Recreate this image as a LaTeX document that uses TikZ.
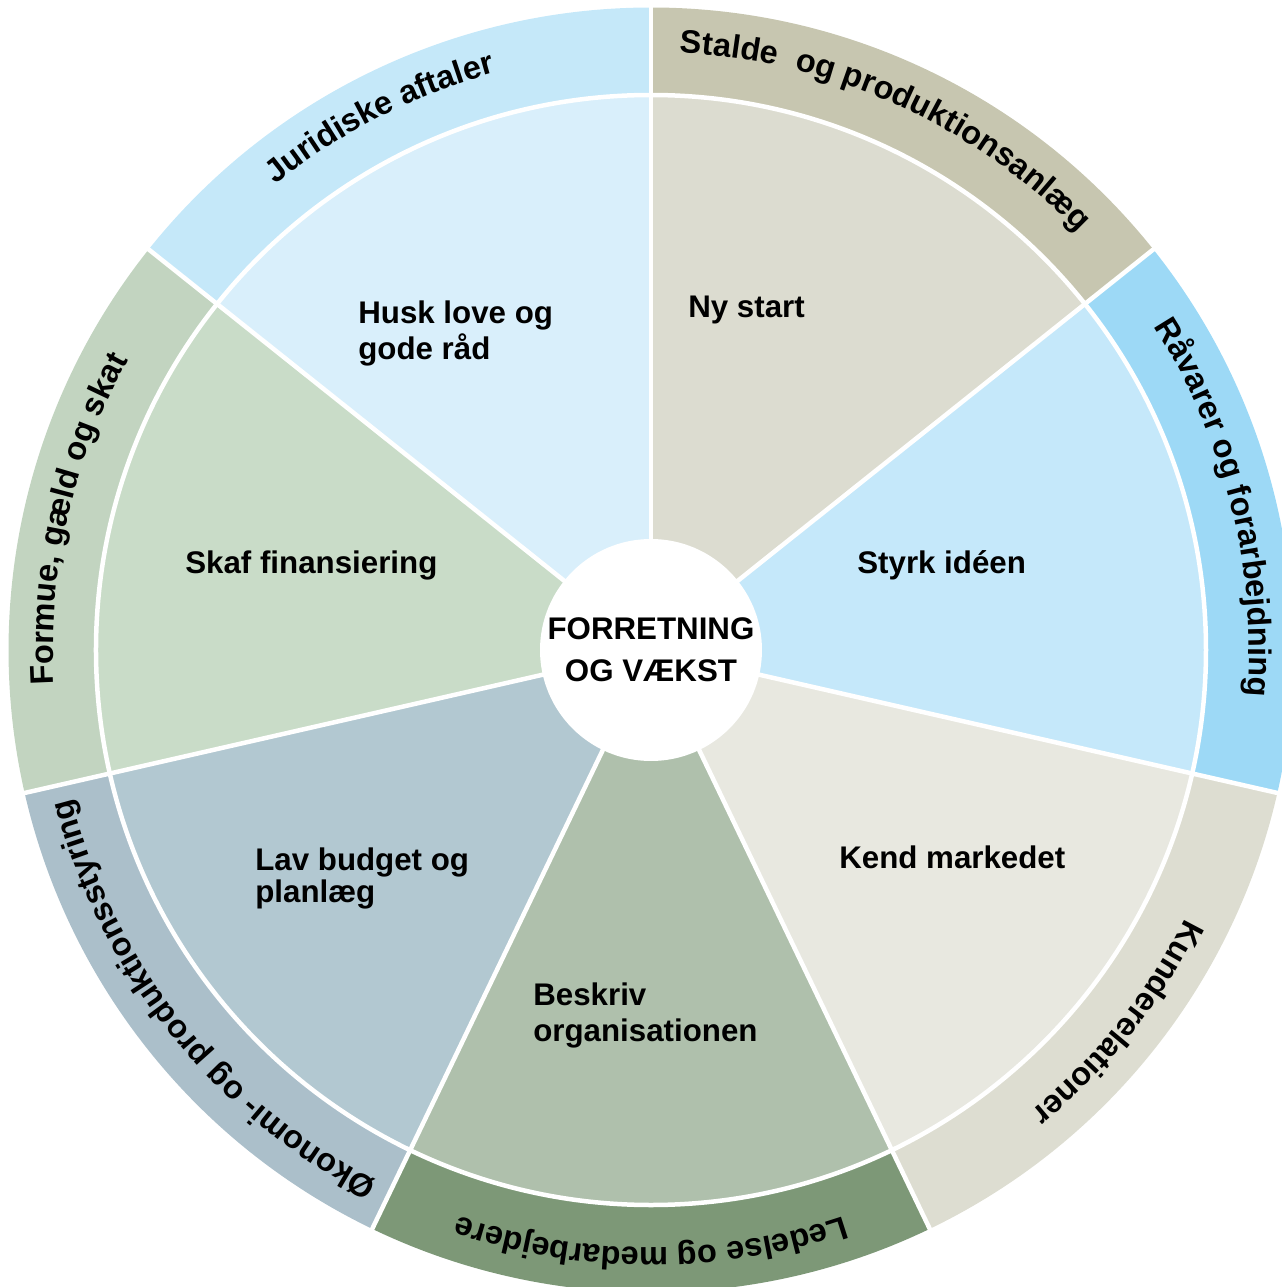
\documentclass[tikz,border=0pt]{standalone}
\usepackage{fontspec}
\setmainfont{Liberation Sans}
\usepackage{tikz}
\usetikzlibrary{decorations.text, positioning, calc}

\definecolor{nyin}{HTML}{DCDCD0}
\definecolor{staldeout}{HTML}{C7C6B0}
\definecolor{styrkin}{HTML}{C5E8FA}
\definecolor{raavout}{HTML}{9DD9F6}
\definecolor{kendin}{HTML}{E8E8E0}
\definecolor{kundeout}{HTML}{DDDDD1}
\definecolor{beskin}{HTML}{AFC0AC}
\definecolor{ledout}{HTML}{7D9877}
\definecolor{lavin}{HTML}{B2C8D1}
\definecolor{okoout}{HTML}{ABBFCA}
\definecolor{skafin}{HTML}{C9DCC8}
\definecolor{formout}{HTML}{C2D4C0}
\definecolor{huskin}{HTML}{D9EFFB}
\definecolor{jurout}{HTML}{C5E8F9}

\newcommand{\ringfont}{\bfseries\fontsize{18.5}{21}\selectfont}

\begin{document}
\begin{tikzpicture}[
  lbl/.style={font=\bfseries\fontsize{17.8}{21}\selectfont, inner sep=0pt, align=left},
  hub/.style={circle, fill=white, minimum size=4.44cm, inner sep=0pt, align=center, font=\bfseries\fontsize{17.8}{23.8}\selectfont},
  gap/.style={white, line width=0.09cm},
  ringpath/.style={decorate, decoration={text along path, text align=center}}]

\useasboundingbox (-13.02,-12.74) rectangle (12.62,13.0);
\clip (-13.02,-12.74) rectangle (12.62,13.0);

\def\rin{11.1}
\def\rout{12.85}
\def\rtxt{11.96}

%//seven sectors, clockwise from the top
\foreach \i/\cin/\cout in {0/nyin/staldeout, 1/styrkin/raavout, 2/kendin/kundeout, 3/beskin/ledout, 4/lavin/okoout, 5/skafin/formout, 6/huskin/jurout}
{
\pgfmathsetmacro{\a}{90-\i*360/7}
\pgfmathsetmacro{\b}{\a-360/7}
\fill[\cout] (\a:\rin) arc[start angle=\a, end angle=\b, radius=\rin] -- (\b:\rout) arc[start angle=\b, end angle=\a, radius=\rout] -- cycle;
\fill[\cin] (0,0) -- (\a:\rin) arc[start angle=\a, end angle=\b, radius=\rin] -- cycle;
}

%//white gaps
\foreach \i in {0,1,2,3,4,5,6}
\draw[gap] (0,0) -- ({90-\i*360/7}:13.3);
\draw[gap] (0,0) circle (\rin);

\node[hub] (hub) at (0,0) {FORRETNING\\OG VÆKST};

%//texts in the outer ring
\path[ringpath, decoration={text={|\ringfont|Stalde{\ } og produktionsanlæg}}] (91.5:\rtxt) arc[start angle=91.5, end angle=40.071, radius=\rtxt];
\path[ringpath, decoration={text={|\ringfont|Råvarer og forarbejdning}}] (39.9:\rtxt) arc[start angle=39.9, end angle=-11.529, radius=\rtxt];
\path[ringpath, decoration={text={|\ringfont|Kunderelationer}}] (-12.857:\rtxt) arc[start angle=-12.857, end angle=-64.286, radius=\rtxt];
\path[ringpath, decoration={text={|\ringfont|Ledelse og medarbejdere}}] (-64.286:\rtxt) arc[start angle=-64.286, end angle=-115.714, radius=\rtxt];
\path[ringpath, decoration={text={|\ringfont|Økonomi- og produktionsstyring}}] (-115.714:\rtxt) arc[start angle=-115.714, end angle=-167.143, radius=\rtxt];
\path[ringpath, decoration={text={|\ringfont|Formue, gæld og skat}}] (192.857:\rtxt) arc[start angle=192.857, end angle=141.429, radius=\rtxt];
\path[ringpath, decoration={text={|\ringfont|Juridiske aftaler}}] (142.7:\rtxt) arc[start angle=142.7, end angle=91.271, radius=\rtxt];

%//labels of the inner sectors
\node[lbl, anchor=base west] (nystart) at (0.74, 6.64) {Ny start};
\node[lbl, anchor=base west] (styrk) at (4.12, 1.54) {Styrk idéen};
\node[lbl, anchor=base west] (kend) at (3.76, -4.36) {Kend markedet};
\node[lbl, anchor=north west] (beskriv) at (-2.36, -6.64) {Beskriv\\organisationen};
\node[lbl, anchor=north west] (budget) at (-7.92, -3.94) {Lav budget og\\[-2.3pt]planlæg};
\node[lbl, anchor=base west] (finans) at (-9.32, 1.54) {Skaf finansiering};
\node[lbl, anchor=north west] (husk) at (-5.86, 7.0) {Husk love og\\gode råd};

\end{tikzpicture}
\end{document}
